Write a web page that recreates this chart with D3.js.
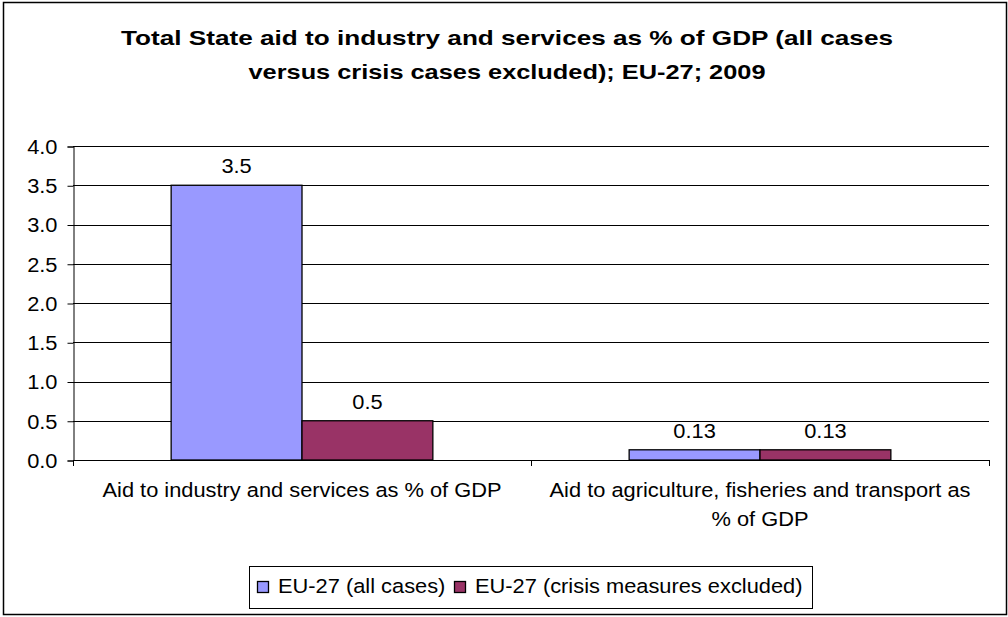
<!DOCTYPE html>
<html>
<head>
<meta charset="utf-8">
<script src="https://cdn.jsdelivr.net/npm/d3@7"></script>
<style>
  html, body { margin: 0; padding: 0; background: #fff; }
  svg { display: block; }
  text { font-family: "Liberation Sans", Arial, sans-serif; fill: #000; }
</style>
</head>
<body>
<div id="chart"></div>
<script>
// chart data
var categories = [
  ["Aid to industry and services as % of GDP"],
  ["Aid to agriculture, fisheries and transport as", "% of GDP"]
];
var seriesNames = ["EU-27 (all cases)", "EU-27 (crisis measures excluded)"];
var allCases = [3.5, 0.13];
var crisisExcluded = [0.5, 0.13];
var valueLabels = [["3.5", "0.13"], ["0.5", "0.13"]];
var yTicks = [0, 0.5, 1.0, 1.5, 2.0, 2.5, 3.0, 3.5, 4.0];
var titleLines = [
  "Total State aid to industry and services as % of GDP (all cases",
  "versus crisis cases excluded); EU-27; 2009"
];

var colors = ["#9999ff", "#993366"];
var width = 1008, height = 617;
var plot = { left: 73, right: 989, top: 146, bottom: 460 };
var fontSize = 19.5;
var sx = 1.12; // the reference text is a bit wider than plain Arial

var svg = d3.select("#chart").append("svg")
  .attr("width", width)
  .attr("height", height);

// outer frame
svg.append("rect")
  .attr("x", 3.5).attr("y", 2.5)
  .attr("width", 1003).attr("height", 612)
  .attr("fill", "#fff")
  .attr("stroke", "#000")
  .attr("stroke-width", 1.5);

// helper: stretched text
function label(parent, x, y, str, anchor) {
  return parent.append("text")
    .attr("transform", "translate(" + x + "," + y + ") scale(" + sx + ",1)")
    .attr("text-anchor", anchor || "middle")
    .style("font-size", fontSize + "px")
    .text(str);
}

// title
var titleWidths = [772, 517];
svg.selectAll("text.title")
  .data(titleLines)
  .enter().append("text")
  .classed("title", true)
  .attr("x", 507)
  .attr("y", function(d, i) { return 45 + i * 34; })
  .attr("text-anchor", "middle")
  .attr("textLength", function(d, i) { return titleWidths[i]; })
  .attr("lengthAdjust", "spacingAndGlyphs")
  .style("font-size", "21px")
  .style("font-weight", "bold")
  .text(function(d) { return d; });

// scales
var x0 = d3.scaleBand()
  .domain(d3.range(categories.length))
  .range([plot.left, plot.right])
  .paddingInner(0).paddingOuter(0);

var x1 = d3.scaleBand()
  .domain(d3.range(seriesNames.length))
  .range([0, x0.bandwidth()])
  .paddingInner(0).paddingOuter(0.75);

var y = d3.scaleLinear()
  .domain([0, 4])
  .range([plot.bottom, plot.top]);

// gridlines
svg.append("g")
  .selectAll("line")
  .data(yTicks.slice(1))
  .enter().append("line")
  .attr("x1", plot.left).attr("x2", plot.right)
  .attr("y1", function(d) { return Math.round(y(d)) + 0.5; })
  .attr("y2", function(d) { return Math.round(y(d)) + 0.5; })
  .attr("stroke", "#000")
  .attr("stroke-width", 1);

// y axis
var yAxis = svg.append("g")
  .attr("transform", "translate(" + (plot.left + 0.5) + ",0.5)")
  .call(d3.axisLeft(y).tickValues(yTicks).tickFormat(d3.format(".1f"))
    .tickSize(6).tickPadding(10));
yAxis.select(".domain").attr("stroke", "#000");
yAxis.selectAll(".tick line").attr("stroke", "#000");
yAxis.selectAll(".tick text")
  .attr("x", -16 / sx)
  .attr("dy", "0.35em")
  .attr("transform", "scale(" + sx + ",1)")
  .style("font-size", fontSize + "px")
  .style("font-family", "'Liberation Sans', Arial, sans-serif")
  .attr("fill", "#000");

// bars
var seriesValues = [allCases, crisisExcluded];
var groups = svg.append("g").selectAll("g")
  .data(categories)
  .enter().append("g")
  .attr("transform", function(d, i) { return "translate(" + x0(i) + ",0)"; });

groups.selectAll("rect")
  .data(function(d, ci) {
    return seriesValues.map(function(vals, si) { return { s: si, c: ci, v: vals[ci] }; });
  })
  .enter().append("rect")
  .attr("x", function(d) { return x1(d.s); })
  .attr("width", x1.bandwidth())
  .attr("y", function(d) { return y(d.v); })
  .attr("height", function(d) { return y(0) - y(d.v); })
  .attr("fill", function(d) { return colors[d.s]; })
  .attr("stroke", "#000")
  .attr("stroke-width", 1.3);

// value labels
groups.each(function(d, ci) {
  var g = d3.select(this);
  seriesValues.forEach(function(vals, si) {
    label(g, x1(si) + x1.bandwidth() / 2, y(vals[ci]) - 12, valueLabels[si][ci]);
  });
});

// x axis
var xAxis = svg.append("g");
xAxis.append("line")
  .attr("x1", plot.left).attr("x2", plot.right)
  .attr("y1", plot.bottom + 0.5).attr("y2", plot.bottom + 0.5)
  .attr("stroke", "#000");
xAxis.selectAll("line.tick")
  .data(d3.range(categories.length + 1))
  .enter().append("line")
  .classed("tick", true)
  .attr("x1", function(i) { return plot.left + i * x0.step() + 0.5; })
  .attr("x2", function(i) { return plot.left + i * x0.step() + 0.5; })
  .attr("y1", plot.bottom).attr("y2", plot.bottom + 6)
  .attr("stroke", "#000");

categories.forEach(function(lines, ci) {
  lines.forEach(function(line, li) {
    label(svg, x0(ci) + x0.bandwidth() / 2, 497 + li * 29, line);
  });
});

// legend
var legend = svg.append("g");
legend.append("rect")
  .attr("x", 249.5).attr("y", 566.5)
  .attr("width", 563).attr("height", 42)
  .attr("fill", "#fff")
  .attr("stroke", "#000")
  .attr("stroke-width", 1);

var legendX = [257, 454];
seriesNames.forEach(function(name, i) {
  legend.append("rect")
    .attr("x", legendX[i] + 0.5).attr("y", 581.5)
    .attr("width", 11).attr("height", 11)
    .attr("fill", colors[i])
    .attr("stroke", "#000")
    .attr("stroke-width", 1.3);
  label(legend, legendX[i] + 21, 593, name, "start");
});
</script>
</body>
</html>
